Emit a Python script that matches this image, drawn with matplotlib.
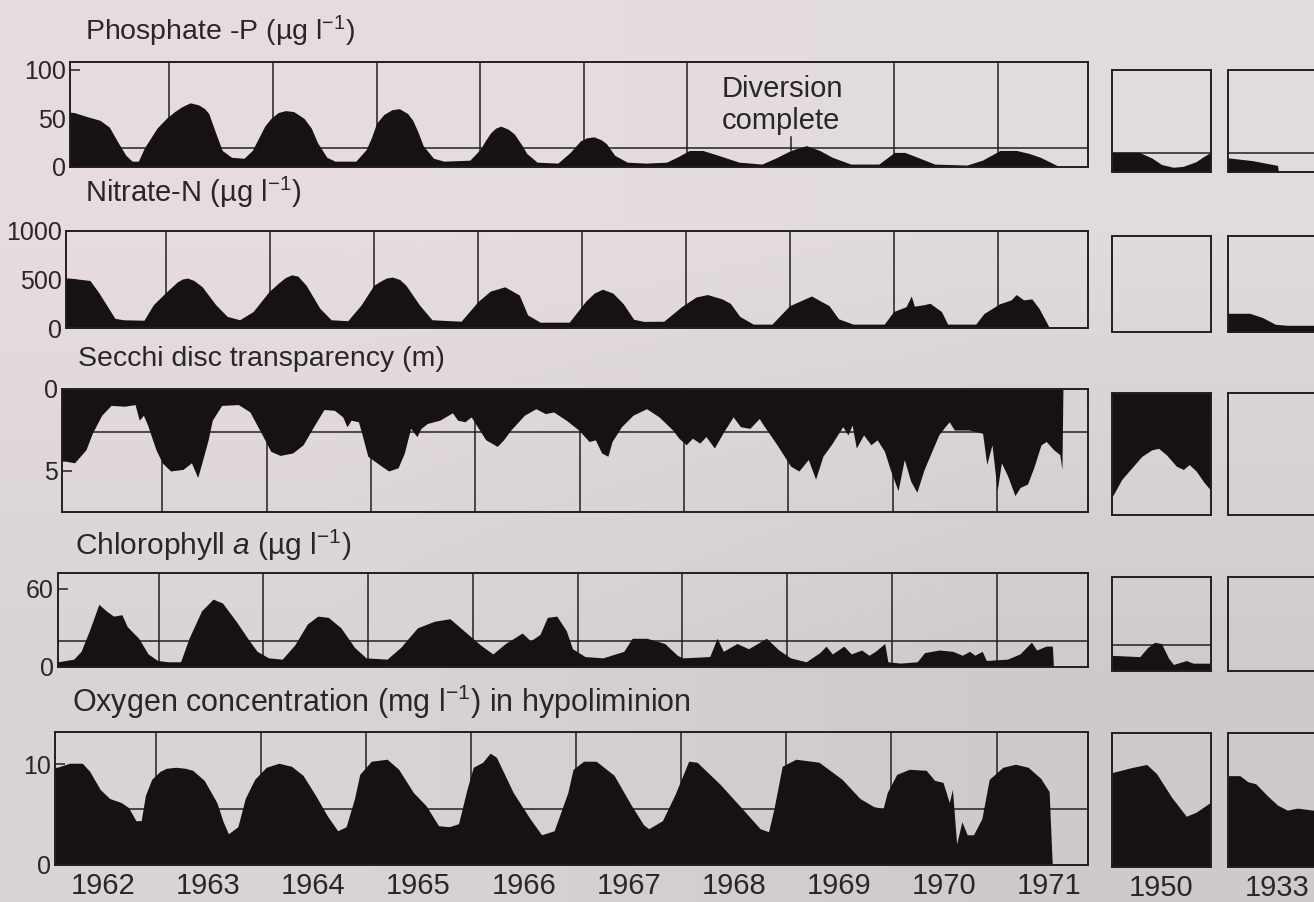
import numpy as np
import matplotlib.pyplot as plt

plt.rcParams['font.family'] = ['Liberation Sans', 'DejaVu Sans']
plt.rcParams['mathtext.fontset'] = 'custom'
plt.rcParams['mathtext.rm'] = 'Liberation Sans'
plt.rcParams['mathtext.it'] = 'Liberation Sans:italic'

# ==============================
# Data: (decimal year, value)
# ==============================
phosphate = [(1962.00, 57), (1962.08, 56), (1962.20, 52), (1962.33, 48), (1962.42, 41), (1962.50, 26),
             (1962.58, 12), (1962.64, 6), (1962.70, 6), (1962.76, 20), (1962.88, 40), (1962.97, 50),
             (1963.05, 57), (1963.12, 62), (1963.20, 66), (1963.28, 64), (1963.34, 60), (1963.38, 55),
             (1963.45, 34), (1963.51, 17), (1963.60, 10), (1963.72, 9), (1963.80, 17), (1963.92, 42),
             (1963.98, 50), (1964.05, 56), (1964.12, 58), (1964.20, 57), (1964.30, 50), (1964.37, 40),
             (1964.43, 25), (1964.52, 10), (1964.60, 6), (1964.80, 6), (1964.90, 18), (1964.95, 30),
             (1965.00, 45), (1965.07, 54), (1965.15, 59), (1965.22, 60), (1965.30, 55), (1965.35, 48),
             (1965.40, 36), (1965.45, 22), (1965.55, 9), (1965.65, 6), (1965.90, 7), (1966.00, 18),
             (1966.05, 27), (1966.10, 35), (1966.15, 40), (1966.20, 42), (1966.27, 39), (1966.33, 34),
             (1966.40, 23), (1966.45, 14), (1966.55, 5), (1966.75, 4), (1966.87, 15), (1966.97, 27),
             (1967.03, 30), (1967.10, 31), (1967.17, 28), (1967.22, 24), (1967.30, 12), (1967.42, 5),
             (1967.60, 4), (1967.80, 5), (1967.90, 10), (1968.02, 17), (1968.15, 17), (1968.30, 12),
             (1968.50, 5), (1968.72, 3), (1968.85, 9), (1969.00, 17), (1969.15, 22), (1969.28, 17),
             (1969.40, 10), (1969.58, 3), (1969.85, 3), (1970.00, 15), (1970.10, 15), (1970.20, 11),
             (1970.39, 3), (1970.70, 2), (1970.85, 7), (1971.02, 17), (1971.18, 17), (1971.30, 14),
             (1971.41, 10), (1971.60, 0)]
phosphate_1950 = [(0, 21), (0.27, 21), (0.4, 15), (0.5, 8), (0.62, 5), (0.72, 6), (0.85, 11), (0.92, 16), (1.0, 21)]
phosphate_1933 = [(0, 15), (0.25, 12), (0.4, 9), (0.5, 7), (0.51, 0)]

nitrate = [(1962.00, 515), (1962.07, 515), (1962.27, 490), (1962.35, 373), (1962.43, 237), (1962.51, 100),
           (1962.59, 85), (1962.79, 80), (1962.88, 240), (1962.99, 356), (1963.11, 475), (1963.16, 505),
           (1963.21, 515), (1963.27, 490), (1963.35, 425), (1963.48, 240), (1963.59, 120), (1963.71, 85),
           (1963.84, 170), (1963.99, 373), (1964.08, 460), (1964.15, 520), (1964.21, 548), (1964.27, 535),
           (1964.35, 440), (1964.48, 205), (1964.59, 85), (1964.75, 75), (1964.88, 240), (1965.00, 440),
           (1965.06, 480), (1965.12, 515), (1965.18, 525), (1965.25, 500), (1965.31, 440), (1965.44, 237),
           (1965.56, 85), (1965.84, 70), (1966.00, 270), (1966.12, 380), (1966.26, 425), (1966.40, 340),
           (1966.48, 135), (1966.60, 60), (1966.88, 60), (1967.04, 278), (1967.12, 360), (1967.20, 400),
           (1967.30, 360), (1967.40, 250), (1967.50, 90), (1967.60, 68), (1967.79, 70), (1967.96, 220),
           (1968.10, 320), (1968.21, 345), (1968.35, 300), (1968.43, 254), (1968.52, 120), (1968.65, 40),
           (1968.83, 40), (1969.00, 230), (1969.21, 330), (1969.38, 230), (1969.47, 95), (1969.61, 40),
           (1969.91, 40), (1970.00, 170), (1970.12, 220), (1970.17, 330), (1970.20, 225), (1970.29, 240),
           (1970.35, 255), (1970.46, 170), (1970.52, 40), (1970.79, 40), (1970.87, 150), (1971.02, 250),
           (1971.13, 290), (1971.18, 345), (1971.25, 290), (1971.33, 300), (1971.40, 200), (1971.50, 0)]
nitrate_1933 = [(0, 195), (0.22, 195), (0.35, 150), (0.48, 80), (0.6, 70), (1.0, 70)]

secchi = [(1962.00, 4.4), (1962.07, 4.4), (1962.16, 4.5), (1962.27, 3.7), (1962.33, 2.7), (1962.42, 1.6),
          (1962.51, 1.0), (1962.64, 1.05), (1962.74, 0.95), (1962.78, 1.9), (1962.82, 1.6), (1962.86, 2.2),
          (1962.94, 3.7), (1963.00, 4.5), (1963.08, 5.0), (1963.20, 4.9), (1963.28, 4.5), (1963.34, 5.4),
          (1963.38, 4.5), (1963.44, 3.1), (1963.48, 1.9), (1963.57, 1.0), (1963.73, 0.95), (1963.84, 1.4),
          (1963.95, 2.7), (1964.04, 3.8), (1964.13, 4.05), (1964.25, 3.9), (1964.35, 3.4), (1964.45, 2.3),
          (1964.55, 1.25), (1964.65, 1.3), (1964.73, 1.7), (1964.77, 2.3), (1964.81, 1.9), (1964.88, 2.0),
          (1964.92, 2.9), (1964.97, 4.1), (1965.10, 4.7), (1965.17, 5.0), (1965.26, 4.8), (1965.32, 3.9),
          (1965.38, 2.4), (1965.44, 2.9), (1965.48, 2.4), (1965.54, 2.1), (1965.66, 1.9), (1965.78, 1.45),
          (1965.83, 1.9), (1965.90, 2.0), (1965.96, 1.7), (1966.03, 2.4), (1966.10, 3.1), (1966.21, 3.5),
          (1966.27, 3.1), (1966.34, 2.5), (1966.47, 1.6), (1966.58, 1.2), (1966.67, 1.5), (1966.75, 1.4),
          (1966.87, 1.9), (1966.99, 2.5), (1967.09, 3.2), (1967.15, 3.1), (1967.21, 3.9), (1967.27, 4.1),
          (1967.31, 3.2), (1967.40, 2.3), (1967.51, 1.6), (1967.64, 1.2), (1967.76, 1.7), (1967.89, 2.5),
          (1967.95, 3.0), (1968.02, 3.4), (1968.08, 3.0), (1968.15, 3.3), (1968.21, 2.9), (1968.29, 3.6),
          (1968.38, 2.6), (1968.47, 1.7), (1968.54, 2.3), (1968.63, 2.4), (1968.72, 1.8), (1968.76, 2.2),
          (1968.89, 3.4), (1969.02, 4.7), (1969.10, 5.0), (1969.19, 4.3), (1969.26, 5.5), (1969.33, 4.1),
          (1969.41, 3.4), (1969.52, 2.3), (1969.57, 2.8), (1969.61, 2.2), (1969.65, 3.6), (1969.72, 2.8),
          (1969.79, 3.4), (1969.85, 3.1), (1969.92, 3.8), (1969.98, 5.0), (1970.05, 6.2), (1970.11, 4.3),
          (1970.17, 5.6), (1970.23, 6.3), (1970.30, 4.9), (1970.36, 4.0), (1970.44, 2.8), (1970.50, 2.3),
          (1970.54, 2.0), (1970.59, 2.5), (1970.73, 2.5), (1970.86, 2.7), (1970.90, 4.6), (1970.95, 3.4),
          (1971.00, 6.2), (1971.04, 4.5), (1971.10, 5.3), (1971.17, 6.5), (1971.22, 6.0), (1971.29, 5.8),
          (1971.35, 4.8), (1971.42, 3.4), (1971.47, 3.2), (1971.54, 3.7), (1971.60, 4.0), (1971.62, 4.9),
          (1971.63, 0.0)]
secchi_1950 = [(0, 6.4), (0.1, 5.3), (0.2, 4.6), (0.3, 3.9), (0.4, 3.5), (0.47, 3.4), (0.55, 3.8),
               (0.65, 4.5), (0.72, 4.7), (0.78, 4.4), (0.85, 4.8), (0.93, 5.5), (1.0, 6.0)]

chlorophyll = [(1962.00, 4), (1962.04, 4), (1962.19, 6), (1962.26, 12), (1962.34, 28), (1962.43, 48),
               (1962.50, 43), (1962.57, 39), (1962.65, 40), (1962.70, 31), (1962.81, 22), (1962.90, 10),
               (1962.99, 5), (1963.09, 4), (1963.21, 4), (1963.29, 22), (1963.41, 43), (1963.52, 52),
               (1963.61, 49), (1963.74, 35), (1963.85, 22), (1963.94, 12), (1964.05, 7), (1964.18, 6),
               (1964.30, 17), (1964.42, 33), (1964.52, 39), (1964.62, 38), (1964.74, 30), (1964.87, 15),
               (1964.98, 7), (1965.18, 6), (1965.31, 15), (1965.47, 30), (1965.63, 35), (1965.78, 37),
               (1965.91, 28), (1966.07, 17), (1966.19, 10), (1966.31, 18), (1966.47, 26), (1966.55, 20),
               (1966.64, 25), (1966.71, 38), (1966.80, 39), (1966.89, 28), (1966.95, 14), (1967.07, 8),
               (1967.24, 7), (1967.44, 12), (1967.52, 22), (1967.66, 22), (1967.83, 18), (1967.95, 9),
               (1968.00, 7), (1968.26, 8), (1968.33, 22), (1968.39, 12), (1968.52, 18), (1968.63, 14),
               (1968.80, 22), (1968.92, 13), (1969.03, 7), (1969.18, 4), (1969.31, 11), (1969.37, 16),
               (1969.43, 10), (1969.54, 16), (1969.61, 10), (1969.71, 13), (1969.78, 9), (1969.84, 12),
               (1969.93, 18), (1969.96, 4), (1970.08, 3), (1970.24, 4), (1970.31, 11), (1970.45, 13),
               (1970.58, 12), (1970.67, 9), (1970.74, 12), (1970.79, 9), (1970.86, 12), (1970.90, 5),
               (1971.10, 6), (1971.22, 10), (1971.33, 19), (1971.38, 13), (1971.47, 16), (1971.53, 16),
               (1971.54, 0)]
chlorophyll_1950 = [(0, 12), (0.28, 11), (0.36, 18), (0.43, 22), (0.5, 21), (0.57, 10), (0.62, 5),
                    (0.75, 8), (0.82, 6), (1.0, 6)]

oxygen = [(1962.00, 9.7), (1962.06, 9.7), (1962.18, 10.1), (1962.30, 10.1), (1962.37, 9.3), (1962.47, 7.5),
          (1962.56, 6.6), (1962.67, 6.2), (1962.74, 5.7), (1962.81, 4.4), (1962.86, 4.4), (1962.90, 6.9),
          (1962.96, 8.5), (1963.04, 9.3), (1963.10, 9.6), (1963.19, 9.7), (1963.28, 9.6), (1963.35, 9.4),
          (1963.46, 8.4), (1963.58, 6.2), (1963.64, 4.3), (1963.69, 3.1), (1963.78, 3.8), (1963.85, 6.6),
          (1963.94, 8.5), (1964.05, 9.7), (1964.17, 10.1), (1964.29, 9.8), (1964.40, 8.9), (1964.52, 6.9),
          (1964.63, 4.9), (1964.73, 3.4), (1964.81, 3.8), (1964.89, 6.6), (1964.94, 9.0), (1965.05, 10.3),
          (1965.20, 10.5), (1965.31, 9.5), (1965.45, 7.2), (1965.57, 5.9), (1965.69, 3.9), (1965.79, 3.8),
          (1965.88, 4.1), (1965.96, 7.5), (1966.02, 9.7), (1966.11, 10.2), (1966.18, 11.1), (1966.24, 10.7),
          (1966.40, 7.2), (1966.56, 4.6), (1966.67, 3.0), (1966.79, 3.4), (1966.92, 7.2), (1966.97, 9.5),
          (1967.07, 10.3), (1967.19, 10.3), (1967.36, 8.9), (1967.52, 6.0), (1967.64, 4.0), (1967.69, 3.6),
          (1967.82, 4.4), (1967.94, 7.0), (1968.07, 10.3), (1968.15, 10.2), (1968.37, 8.0), (1968.57, 5.7),
          (1968.75, 3.6), (1968.83, 3.3), (1968.88, 5.5), (1968.96, 9.8), (1969.09, 10.5), (1969.31, 10.2),
          (1969.53, 8.5), (1969.70, 6.6), (1969.83, 5.8), (1969.92, 5.6), (1969.96, 7.2), (1970.05, 9.0),
          (1970.17, 9.5), (1970.33, 9.4), (1970.41, 8.4), (1970.49, 8.2), (1970.55, 6.2), (1970.58, 7.5),
          (1970.62, 2.1), (1970.67, 4.3), (1970.72, 3.0), (1970.78, 3.0), (1970.86, 4.6), (1970.93, 8.5),
          (1971.06, 9.7), (1971.18, 10.0), (1971.30, 9.7), (1971.42, 8.6), (1971.50, 7.3), (1971.53, 0.0)]
oxygen_1950 = [(0, 9.3), (0.2, 9.8), (0.35, 10.1), (0.45, 9.2), (0.6, 6.9), (0.75, 5.0), (0.85, 5.4), (1.0, 6.4)]
oxygen_1933 = [(0, 9.0), (0.12, 9.0), (0.2, 8.4), (0.28, 8.2), (0.4, 7.0), (0.5, 6.1), (0.6, 5.6),
               (0.7, 5.8), (0.86, 5.6), (1.0, 6.0)]

years = list(range(1962, 1972))

# ==============================
# Figure
# ==============================
W, H = 1314, 902
INK = '#161214'
LINE = '#231f21'
TXT = '#2a2627'
XLIM = (1962.04, 1971.87)

fig = plt.figure(figsize=(W / 100, H / 100), dpi=100)

# paper of the photographed page
bg = fig.add_axes([0, 0, 1, 1], zorder=-10)
paper = np.array([[[0.905, 0.865, 0.875], [0.885, 0.860, 0.862]],
                  [[0.850, 0.830, 0.835], [0.810, 0.795, 0.797]]])
bg.imshow(paper, extent=[0, 1, 0, 1], aspect='auto', interpolation='bilinear', origin='upper')
bg.axis('off')


def box(l, t, r, b):
    ax = fig.add_axes([l / W, 1 - b / H, (r - l) / W, (b - t) / H])
    ax.set_facecolor('none')
    for s in ax.spines.values():
        s.set_linewidth(1.4)
        s.set_color(LINE)
    ax.tick_params(axis='x', length=0, labelbottom=False)
    ax.tick_params(axis='y', direction='in', length=7, width=1.1, color=LINE,
                   labelsize=18, pad=3, labelcolor=TXT)
    return ax


def fill(ax, series):
    t, v = np.array(series, dtype=float).T
    ax.fill_between(t, 0, v, color=INK, lw=0, zorder=2)
    return t, v


rows = [
    dict(title=r'Phosphate -P (µg l$^{-1}$)', tx=85, ty=40, fs=20.5, main=phosphate, left=70, top=62, bot=167,
         stop=70, sbot=172, ylim=(0, 108), yticks=[0, 50, 100], ref=20,
         s50=phosphate_1950, s33=phosphate_1933, ref50=True, ref33=True),
    dict(title=r'Nitrate-N (µg l$^{-1}$)', tx=85, ty=202, fs=21, main=nitrate, left=66, top=231, bot=328,
         stop=236, sbot=332, ylim=(0, 1000), yticks=[0, 500, 1000], ref=None,
         s50=None, s33=nitrate_1933, ref50=False, ref33=False),
    dict(title='Secchi disc transparency (m)', tx=78, ty=366, fs=20.5, main=secchi, left=62, top=389, bot=512,
         stop=393, sbot=515, ylim=(7.5, 0), yticks=[0, 5], ref=2.6,
         s50=secchi_1950, s33=None, ref50=True, ref33=False),
    dict(title=r'Chlorophyll $a$ (µg l$^{-1}$)', tx=75, ty=555, fs=21.5, main=chlorophyll, left=58, top=573,
         bot=667, stop=577, sbot=671, ylim=(0, 72), yticks=[0, 60], ref=20,
         s50=chlorophyll_1950, s33=None, ref50=True, ref33=False),
    dict(title=r'Oxygen concentration (mg l$^{-1}$) in hypoliminion', tx=72, ty=712, fs=22, main=oxygen,
         left=55, top=732, bot=865, stop=733, sbot=867, ylim=(0, 13.2), yticks=[0, 10], ref=5.6,
         s50=oxygen_1950, s33=oxygen_1933, ref50=False, ref33=False),
]

for i, row in enumerate(rows):
    fig.text(row['tx'] / W, 1 - row['ty'] / H, row['title'], fontsize=row['fs'], color=TXT,
             ha='left', va='baseline')

    ax = box(row['left'], row['top'], 1088, row['bot'])
    ax.set_xlim(*XLIM)
    ax.set_ylim(*row['ylim'])
    ax.set_yticks(row['yticks'])
    t, v = fill(ax, row['main'])
    for yr in years[1:]:
        if i == 0 and yr == 1969:
            continue
        ax.axvline(yr, color=LINE, lw=1.1, zorder=1)
    if row['ref'] is not None:
        ax.axhline(row['ref'], color=LINE, lw=1.1, zorder=1)

    if i == 0:
        ax.text(1968.33, 64, 'Diversion\ncomplete', fontsize=21, color=TXT,
                ha='left', va='center', linespacing=1.2)
        ax.plot([1969, 1969], [np.interp(1969, t, v), 31], color=LINE, lw=1.1, zorder=1)

    small = []
    for (l, r, data, has_ref) in [(1112, 1211, row['s50'], row['ref50']),
                                  (1228, 1327, row['s33'], row['ref33'])]:
        sax = box(l, row['stop'], r, row['sbot'])
        sax.set_xlim(0, 1)
        sax.set_ylim(*row['ylim'])
        sax.set_yticks([])
        if data is not None:
            fill(sax, data)
        if has_ref:
            sax.axhline(row['ref'], color=LINE, lw=1.1, zorder=1)
        small.append(sax)

    if i == len(rows) - 1:
        ax.set_xticks([y + 0.5 for y in years])
        ax.set_xticklabels([str(y) for y in years])
        ax.tick_params(axis='x', labelbottom=True, labelsize=21, pad=5, labelcolor=TXT)
        for sax, lab in zip(small, ['1950', '1933']):
            sax.set_xticks([0.5])
            sax.set_xticklabels([lab])
            sax.tick_params(axis='x', labelbottom=True, labelsize=21, pad=5, labelcolor=TXT)

plt.savefig('out.png', dpi=100)
